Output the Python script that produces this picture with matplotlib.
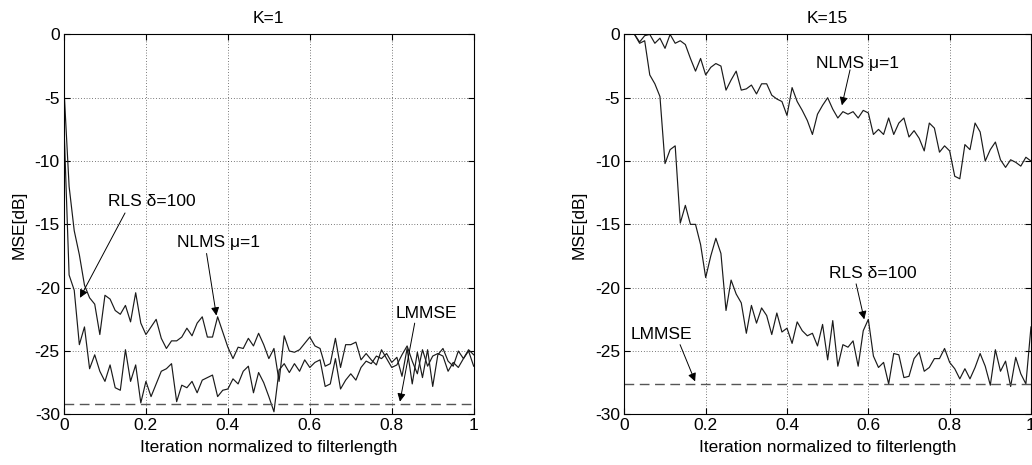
import numpy as np
import matplotlib
matplotlib.use("Agg")
import matplotlib.pyplot as plt

plt.rcParams['font.family'] = ['Liberation Sans', 'DejaVu Sans']
plt.rcParams['axes.unicode_minus'] = False

# iteration axis (normalized to filter length), 81 samples
iters = np.arange(81) / 80.0

# K=1
nlms_k1 = [-4.3, -12.0, -15.5, -17.4, -19.8, -20.8, -21.3, -23.7, -20.6, -20.9,
           -21.8, -22.1, -21.4, -22.7, -20.4, -22.8, -23.7, -23.1, -22.5, -24.0,
           -24.8, -24.2, -24.2, -23.9, -23.2, -23.8, -22.8, -22.3, -23.9, -23.9,
           -22.3, -23.5, -24.7, -25.6, -24.7, -24.8, -24.0, -24.6, -23.6, -24.5,
           -25.6, -24.8, -27.4, -23.8, -25.0, -25.1, -24.9, -24.4, -23.9, -24.6,
           -24.8, -26.2, -26.0, -24.0, -26.3, -24.5, -24.5, -24.3, -25.7, -25.2,
           -25.7, -26.1, -24.9, -25.6, -26.3, -26.1, -25.3, -24.6, -25.8, -26.8,
           -24.9, -26.2, -25.4, -25.2, -25.4, -26.6, -25.9, -26.3, -25.6, -25.0,
           -26.2]
rls_k1 = [-7.2, -19.0, -20.2, -24.5, -23.1, -26.4, -25.3, -26.6, -27.4, -26.1,
          -27.9, -28.1, -24.9, -27.4, -26.1, -29.1, -27.4, -28.6, -27.6, -26.6,
          -26.4, -26.0, -29.0, -27.7, -27.9, -27.4, -28.3, -27.3, -27.1, -26.9,
          -28.6, -28.1, -28.0, -27.2, -27.6, -26.6, -26.2, -28.3, -26.7, -27.5,
          -28.6, -29.8, -26.5, -26.0, -26.7, -26.0, -26.6, -25.7, -26.3, -25.9,
          -25.7, -27.8, -27.6, -25.6, -28.0, -27.3, -26.8, -27.3, -26.3, -25.8,
          -26.0, -25.4, -25.6, -25.2, -25.9, -25.5, -27.0, -24.8, -27.6, -25.1,
          -27.1, -24.9, -27.8, -25.3, -24.8, -25.8, -26.2, -25.0, -25.6, -24.9,
          -25.3]
lmmse_k1 = -29.2

# K=15
nlms_k15 = [0.8, 0.5, 0.0, -0.6, -0.1, 0.0, -0.7, -0.3, -1.1, 0.0,
            -0.7, -0.5, -0.8, -1.9, -2.9, -1.9, -3.2, -2.6, -2.3, -2.5,
            -4.4, -3.6, -2.9, -4.4, -4.3, -4.0, -4.7, -3.9, -3.9, -4.8,
            -5.1, -5.3, -6.4, -4.2, -5.3, -6.0, -6.8, -7.9, -6.3, -5.6,
            -5.0, -5.9, -6.6, -6.1, -6.3, -6.1, -6.6, -6.0, -6.2, -7.9,
            -7.5, -7.9, -6.6, -7.9, -7.0, -6.6, -8.1, -7.6, -8.2, -9.2,
            -7.0, -7.4, -9.3, -8.8, -9.2, -11.2, -11.4, -8.7, -9.1, -7.0,
            -7.7, -10.0, -9.1, -8.5, -9.9, -10.5, -9.9, -10.1, -10.4, -9.7,
            -10.0]
rls_k15 = [1.0, 0.6, 0.0, -0.7, -0.5, -3.2, -3.9, -4.9, -10.2, -9.1,
           -8.8, -14.9, -13.5, -15.0, -15.0, -16.6, -19.2, -17.5, -16.1, -17.3,
           -21.8, -19.4, -20.5, -21.2, -23.6, -21.4, -22.8, -21.6, -22.2, -23.7,
           -22.0, -23.5, -23.2, -24.4, -22.7, -23.4, -23.8, -23.6, -24.6, -22.9,
           -25.7, -22.6, -26.2, -24.5, -24.7, -24.2, -26.2, -23.4, -22.5, -25.4,
           -26.3, -25.9, -27.6, -25.2, -25.3, -27.1, -27.0, -25.6, -25.1, -26.6,
           -26.3, -25.6, -25.6, -24.8, -25.9, -26.4, -27.2, -26.4, -27.2, -26.3,
           -25.2, -26.2, -27.7, -24.9, -26.6, -25.8, -27.8, -25.5, -26.8, -27.6,
           -23.1]
lmmse_k15 = -27.6

titles = ['K=1', 'K=15']
xticks = [0, 0.2, 0.4, 0.6, 0.8, 1]
xticklabels = ['0', '0.2', '0.4', '0.6', '0.8', '1']
yticks = [-30, -25, -20, -15, -10, -5, 0]


def ann(ax, text, xy, xytext, tail):
    ax.text(xytext[0], xytext[1], text, ha='center', va='center', fontsize=12.5)
    ax.annotate('', xy=xy, xytext=tail,
                arrowprops=dict(arrowstyle='-|>', color='k', lw=0.7,
                                mutation_scale=12, shrinkA=0, shrinkB=0))


fig = plt.figure(figsize=(10.32, 4.65), dpi=100)
ax1 = fig.add_axes([0.062, 0.109, 0.397, 0.817])
ax2 = fig.add_axes([0.605, 0.109, 0.394, 0.817])

for ax, nl, rl, lm, t in [(ax1, nlms_k1, rls_k1, lmmse_k1, titles[0]),
                          (ax2, nlms_k15, rls_k15, lmmse_k15, titles[1])]:
    ax.plot(iters, nl, color='#1a1a1a', lw=0.85)
    ax.plot(iters, rl, color='#1a1a1a', lw=0.85)
    ax.axhline(lm, color='#555555', lw=1.0, dashes=(7, 4))
    ax.set_xlim(0, 1)
    ax.set_ylim(-30, 0)
    ax.set_xticks(xticks)
    ax.set_xticklabels(xticklabels)
    ax.set_yticks(yticks)
    ax.grid(True, color='k', linestyle=(0, (1, 3)), lw=0.5)
    ax.tick_params(direction='in', top=True, right=True, labelsize=12.5, length=4, pad=3)
    ax.set_xlabel('Iteration normalized to filterlength', fontsize=12.5, labelpad=5)
    ax.set_ylabel('MSE[dB]', fontsize=12.5, labelpad=6)
    ax.set_title(t, fontsize=12.5, pad=8)
    for s in ax.spines.values():
        s.set_linewidth(0.8)

ann(ax1, 'RLS δ=100', (0.039, -20.8), (0.215, -13.2), (0.149, -14.1))
ann(ax1, 'NLMS μ=1', (0.372, -22.2), (0.378, -16.4), (0.348, -17.3))
ann(ax1, 'LMMSE', (0.82, -29.0), (0.884, -22.0), (0.856, -22.8))

ann(ax2, 'NLMS μ=1', (0.535, -5.6), (0.573, -2.3), (0.555, -2.8))
ann(ax2, 'RLS δ=100', (0.59, -22.5), (0.61, -18.9), (0.57, -19.7))
ann(ax2, 'LMMSE', (0.174, -27.4), (0.091, -23.7), (0.137, -24.5))

fig.savefig('out.png', dpi=100)
